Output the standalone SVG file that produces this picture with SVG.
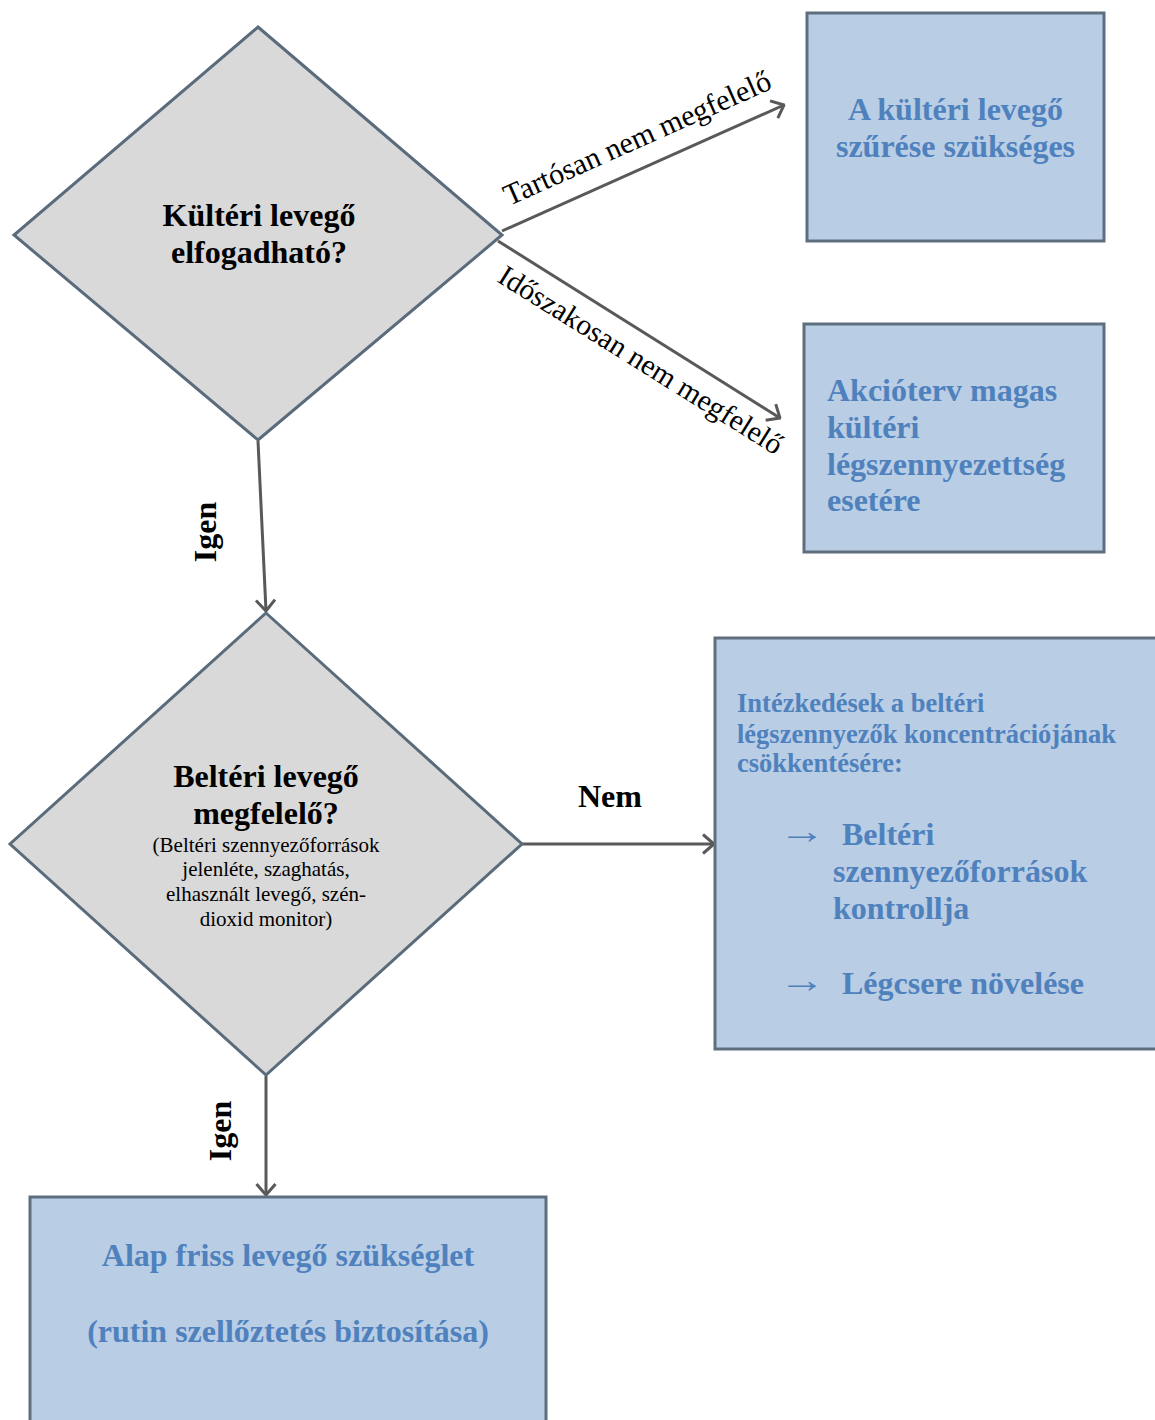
<svg xmlns="http://www.w3.org/2000/svg" width="1155" height="1420" viewBox="0 0 1155 1420">
<defs>
<style>
.box{fill:#B9CDE5;stroke:#5E6E7E;stroke-width:3}
.dia{fill:#D9D9D9;stroke:#5A6B7B;stroke-width:3}
.conn{stroke:#595959;stroke-width:3;fill:none;marker-end:url(#arr)}
.t{font-family:"Liberation Serif","Times New Roman",serif}
.bb{font-family:"Liberation Serif","Times New Roman",serif;font-weight:bold;fill:#000;font-size:32px}
.bl{font-family:"Liberation Serif","Times New Roman",serif;font-weight:bold;fill:#4F81BD;font-size:32px}
.lab{font-family:"Liberation Serif","Times New Roman",serif;fill:#000;font-size:30px}
</style>
<marker id="arr" viewBox="0 0 14 22" refX="12.5" refY="11" markerWidth="14" markerHeight="22" markerUnits="userSpaceOnUse" orient="auto">
<path d="M1.5,1.5 L12.5,11 L1.5,20.5" fill="none" stroke="#595959" stroke-width="3"/>
</marker>
</defs>
<rect width="1155" height="1420" fill="#fff"/>
<g id="connectors">
<line class="conn" x1="502" y1="231" x2="784" y2="105"/>
<line class="conn" x1="498" y1="241" x2="780" y2="418"/>
<line class="conn" x1="258" y1="441" x2="266" y2="611"/>
<line class="conn" x1="522" y1="844" x2="714" y2="844"/>
<line class="conn" x1="266" y1="1076" x2="266" y2="1195"/>
<text class="lab" transform="translate(509,206) rotate(-24)">Tartósan nem megfelelő</text>
<text class="lab" style="font-size:29.5px" transform="translate(496,281) rotate(32)">Időszakosan nem megfelelő</text>
<text class="bb" x="578" y="807">Nem</text>
<text class="bb" transform="translate(216,532) rotate(-90)" text-anchor="middle">Igen</text>
<text class="bb" transform="translate(231,1131) rotate(-90)" text-anchor="middle">Igen</text>
</g>
<g id="d1">
<polygon class="dia" points="258,27 502,235 258,440 14,235"/>
<text class="bb" x="259" y="226" text-anchor="middle">Kültéri levegő</text>
<text class="bb" x="259" y="263" text-anchor="middle">elfogadható?</text>
</g>
<g id="b1">
<rect class="box" x="807" y="13" width="297" height="228"/>
<text class="bl" x="955.5" y="120" text-anchor="middle">A kültéri levegő</text>
<text class="bl" x="955.5" y="157" text-anchor="middle">szűrése szükséges</text>
</g>
<g id="b2">
<rect class="box" x="804" y="324" width="300" height="228"/>
<text class="bl" x="827" y="401">Akcióterv magas</text>
<text class="bl" x="827" y="438">kültéri</text>
<text class="bl" x="827" y="475">légszennyezettség</text>
<text class="bl" x="827" y="511">esetére</text>
</g>
<g id="d2">
<polygon class="dia" points="266,613 522,844 266,1075 10,844"/>
<text class="bb" x="266" y="787" text-anchor="middle">Beltéri levegő</text>
<text class="bb" x="266" y="824" text-anchor="middle">megfelelő?</text>
<text class="t" font-size="21" x="266" y="852" text-anchor="middle">(Beltéri szennyezőforrások</text>
<text class="t" font-size="21" x="266" y="876" text-anchor="middle">jelenléte, szaghatás,</text>
<text class="t" font-size="21" x="266" y="901" text-anchor="middle">elhasznált levegő, szén-</text>
<text class="t" font-size="21" x="266" y="926" text-anchor="middle">dioxid monitor)</text>
</g>
<g id="b3">
<rect class="box" x="715" y="638" width="450" height="411"/>
<text class="bl" style="font-size:26.5px" x="737" y="712">Intézkedések a beltéri</text>
<text class="bl" style="font-size:26.5px" x="737" y="743">légszennyezők koncentrációjának</text>
<text class="bl" style="font-size:26.5px" x="737" y="772">csökkentésére:</text>
<text class="bl" style="font-weight:normal;font-size:36px" transform="translate(779,843) scale(1.3,1)">→</text>
<text class="bl" x="842" y="845">Beltéri</text>
<text class="bl" x="833" y="882">szennyezőforrások</text>
<text class="bl" x="833" y="919">kontrollja</text>
<text class="bl" style="font-weight:normal;font-size:36px" transform="translate(779,992) scale(1.3,1)">→</text>
<text class="bl" x="842" y="994">Légcsere növelése</text>
</g>
<g id="b4">
<rect class="box" x="30" y="1197" width="516" height="240"/>
<text class="bl" x="288" y="1266" text-anchor="middle">Alap friss levegő szükséglet</text>
<text class="bl" x="288" y="1342" text-anchor="middle">(rutin szellőztetés biztosítása)</text>
</g>
</svg>
